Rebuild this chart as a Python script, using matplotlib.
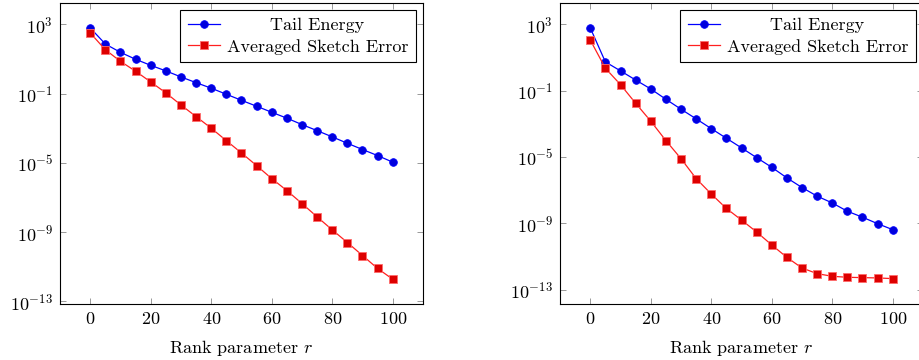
import matplotlib
matplotlib.use("Agg")
import matplotlib.pyplot as plt
import numpy as np

plt.rcParams['font.family'] = ['cmr10', 'DejaVu Serif']
plt.rcParams['mathtext.fontset'] = 'cm'
plt.rcParams['axes.formatter.use_mathtext'] = True

ranks = [0, 5, 10, 15, 20, 25, 30, 35, 40, 45, 50, 55, 60, 65, 70, 75, 80, 85, 90, 95, 100]

# log10 values
left_tail_log = [2.79, 1.86, 1.38, 0.98, 0.63, 0.31, -0.04, -0.37, -0.69, -1.04, -1.39,
                 -1.73, -2.08, -2.42, -2.79, -3.14, -3.50, -3.87, -4.23, -4.58, -4.96]
left_sketch_log = [2.50, 1.53, 0.86, 0.29, -0.33, -0.96, -1.66, -2.33, -3.00, -3.72, -4.43,
                   -5.16, -5.91, -6.60, -7.35, -8.12, -8.87, -9.60, -10.35, -11.10, -11.72]
right_tail_log = [2.78, 0.73, 0.19, -0.36, -0.90, -1.52, -2.12, -2.70, -3.29, -3.87, -4.45,
                  -5.04, -5.62, -6.26, -6.84, -7.36, -7.77, -8.27, -8.63, -9.02, -9.38]
right_sketch_log = [2.05, 0.35, -0.64, -1.76, -2.84, -4.01, -5.10, -6.30, -7.23, -8.10, -8.80,
                    -9.52, -10.30, -11.05, -11.69, -12.03, -12.19, -12.25, -12.27, -12.29, -12.33]

xticks = [0, 20, 40, 60, 80, 100]
yticks = [1e3, 1e-1, 1e-5, 1e-9, 1e-13]
label_tail = "Tail Energy"
label_sketch = "Averaged Sketch Error"
xlabel = r"Rank parameter $r$"

fig = plt.figure(figsize=(9.2, 3.6), dpi=100)
ax1 = fig.add_axes([60 / 920, 56 / 360, 363 / 920, 301 / 360])
ax2 = fig.add_axes([560 / 920, 56 / 360, 363 / 920, 301 / 360])

FS = 13
panels = [
    (ax1, left_tail_log, left_sketch_log, (10 ** -13.15, 10 ** 4.23)),
    (ax2, right_tail_log, right_sketch_log, (10 ** -13.86, 10 ** 4.28)),
]

legends = []
for ax, tl, sl, ylim in panels:
    ax.plot(ranks, 10 ** np.array(tl), color='#0000ff', lw=0.9, marker='o',
            markersize=5.5, markerfacecolor='#0000dd', markeredgecolor='#0000ff',
            markeredgewidth=0.6, label=label_tail, zorder=3)
    ax.plot(ranks, 10 ** np.array(sl), color='#ff2020', lw=0.9, marker='s',
            markersize=5.2, markerfacecolor='#dd0000', markeredgecolor='#ff6a6a',
            markeredgewidth=0.6, label=label_sketch, zorder=3)
    ax.set_yscale('log')
    ax.set_xlim(-10, 110)
    ax.set_ylim(*ylim)
    ax.set_xticks(xticks)
    ax.set_yticks(yticks)
    ax.yaxis.set_minor_locator(matplotlib.ticker.NullLocator())
    ax.tick_params(axis='both', which='major', direction='in', length=4, width=0.6,
                   color='#888888', top=True, right=True, labelsize=FS, pad=5)
    for sp in ax.spines.values():
        sp.set_linewidth(0.8)
        sp.set_color('black')
    ax.set_xlabel(xlabel, fontsize=FS, labelpad=8)
    leg = ax.legend(loc='upper right', fontsize=FS, frameon=True, fancybox=False,
                    edgecolor='black', framealpha=1, borderaxespad=0.4,
                    handlelength=1.8, handletextpad=0.35, labelspacing=0.3,
                    borderpad=0.42)
    leg.get_frame().set_linewidth(0.8)
    legends.append(leg)

# center the shorter legend entry like pgfplots does
fig.canvas.draw()
r = fig.canvas.get_renderer()
for leg in legends:
    texts = leg.get_texts()
    widths = [t.get_window_extent(r).width for t in texts]
    wmax = max(widths)
    for t, w in zip(texts, widths):
        t.set_x((wmax - w) / 2)

fig.savefig("out.png", dpi=100)
